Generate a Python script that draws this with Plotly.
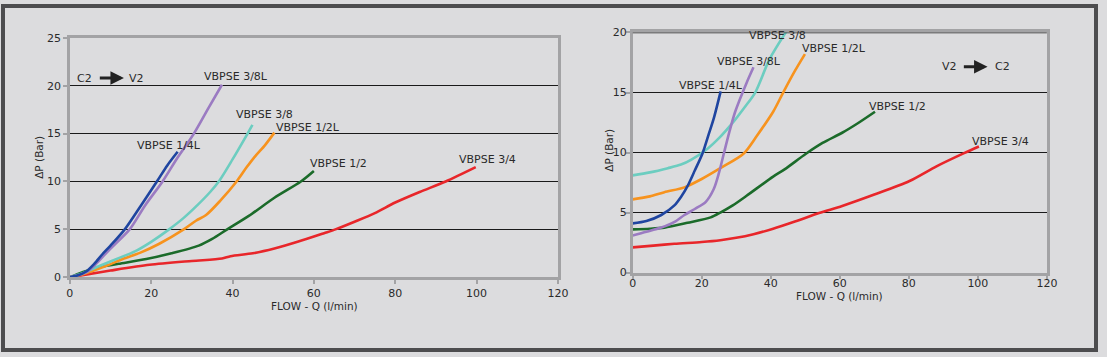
import plotly.graph_objects as go

# ---------------- Left chart: C2 -> V2 ----------------
L_Q_14L = [0, 2, 4, 6, 8, 10, 13.5, 17.5, 21.4, 24, 26.5]
L_DP_14L = [0, 0.2, 0.6, 1.4, 2.4, 3.3, 5, 7.5, 10, 11.7, 13.1]

L_Q_38L = [0, 2, 4, 6, 8, 10, 14.7, 18.5, 22.8, 26.5, 30.5, 34, 37.4]
L_DP_38L = [0, 0.2, 0.5, 1.2, 2.1, 3.0, 5, 7.5, 10, 12.5, 15, 17.6, 20.1]

L_Q_38 = [0, 3, 7.4, 12, 16, 20, 24.4, 28, 31.3, 34.5, 36.8, 40, 43.7, 44.9]
L_DP_38 = [0, 0.4, 1.2, 2.0, 2.7, 3.7, 5, 6.2, 7.5, 8.9, 10.1, 12.3, 15, 15.9]

L_Q_12L = [0, 3, 9, 13, 17.5, 22, 28, 31, 33.5, 37, 41, 43.5, 45.5, 48, 50.3]
L_DP_12L = [0, 0.3, 1.2, 1.9, 2.6, 3.5, 5, 5.9, 6.5, 8, 10, 11.5, 12.6, 13.8, 15.1]

L_Q_12 = [0, 3, 6.6, 12, 18.8, 25, 31.7, 35, 38.7, 44, 50.3, 56.8, 60]
L_DP_12 = [0, 0.5, 1.0, 1.4, 1.9, 2.5, 3.3, 4.0, 5, 6.4, 8.3, 10, 11.1]

L_Q_34 = [0, 4.2, 10, 19.6, 30, 37.4, 39.5, 45, 50.3, 56, 62.5, 65.3, 70, 75, 80, 86, 92.4, 99.8]
L_DP_34 = [0, 0.3, 0.7, 1.3, 1.7, 1.95, 2.2, 2.5, 3.0, 3.7, 4.6, 5, 5.8, 6.7, 7.8, 8.9, 10, 11.5]

# ---------------- Right chart: V2 -> C2 ----------------
R_Q_14L = [0, 4, 8.3, 12.1, 14, 15.9, 18, 20.2, 22, 23.5, 25.5]
R_DP_14L = [4.1, 4.3, 4.8, 5.6, 6.3, 7.2, 8.5, 9.9, 11.5, 12.85, 15.1]

R_Q_38L = [0, 4, 8.3, 12, 15, 18, 21.2, 23.5, 25, 26.4, 28, 29.7, 33, 35]
R_DP_38L = [3.1, 3.4, 3.75, 4.2, 4.8, 5.3, 5.9, 6.96, 8.3, 9.9, 11.7, 13.4, 15.8, 17.1]

R_Q_38 = [0, 5, 10.2, 14, 16.9, 21.6, 25, 29.3, 32.5, 35.5, 39.7, 45]
R_DP_38 = [8.1, 8.35, 8.7, 9.0, 9.4, 10.3, 11.2, 12.6, 13.8, 15, 17.8, 20.3]

R_Q_12L = [0, 5, 9.2, 15, 20, 25.4, 32.1, 36, 40.7, 43.6, 47, 49.9]
R_DP_12L = [6.1, 6.35, 6.7, 7.1, 7.8, 8.7, 9.9, 11.4, 13.4, 15, 16.8, 18.2]

R_Q_12 = [0, 5, 9.2, 15.9, 22.6, 25.4, 29, 33, 40.7, 44, 50.2, 55, 60.7, 65, 70.2]
R_DP_12 = [3.6, 3.65, 3.75, 4.15, 4.6, 5.0, 5.6, 6.4, 8.0, 8.6, 9.9, 10.8, 11.65, 12.4, 13.4]

R_Q_34 = [0, 6, 12.1, 20, 25.4, 30, 35, 40.7, 47, 54, 60.7, 70, 80.2, 88, 96, 100.3]
R_DP_34 = [2.1, 2.25, 2.4, 2.55, 2.7, 2.9, 3.2, 3.65, 4.25, 4.96, 5.55, 6.5, 7.63, 8.85, 9.95, 10.5]

X_TICKS = [0, 20, 40, 60, 80, 100, 120]
L_Y_TICKS = [0, 5, 10, 15, 20, 25]
R_Y_TICKS = [0, 5, 10, 15, 20]

NAMES = ["VBPSE 1/4L", "VBPSE 3/8L", "VBPSE 3/8", "VBPSE 1/2L", "VBPSE 1/2", "VBPSE 3/4"]
COLORS = ["#1f45a0", "#9b7bc2", "#6ccdc0", "#f7931e", "#1b6b2a", "#e8262a"]

# label positions (data coords)
L_LABEL_Q = [24.4, 40.8, 47.9, 58.6, 66.1, 102.7]
L_LABEL_DP = [13.8, 21.0, 17.0, 15.6, 11.9, 12.3]
R_LABEL_Q = [22.8, 33.7, 42.0, 58.4, 76.7, 106.6]
R_LABEL_DP = [15.6, 17.55, 19.75, 18.7, 13.85, 10.9]

FONT = "DejaVu Sans"
TXT = "#2a2a2a"
BG = "#dcdcde"
AXC = "#a3a3a5"
W, H = 1107, 357

fig = go.Figure()

left = [(L_Q_14L, L_DP_14L), (L_Q_38L, L_DP_38L), (L_Q_38, L_DP_38),
        (L_Q_12L, L_DP_12L), (L_Q_12, L_DP_12), (L_Q_34, L_DP_34)]
right = [(R_Q_14L, R_DP_14L), (R_Q_38L, R_DP_38L), (R_Q_38, R_DP_38),
         (R_Q_12L, R_DP_12L), (R_Q_12, R_DP_12), (R_Q_34, R_DP_34)]

order = [5, 4, 3, 2, 1, 0]
for i in order:
    q, dp = left[i]
    fig.add_trace(go.Scatter(x=q, y=dp, mode="lines", name=NAMES[i],
                             line=dict(color=COLORS[i], width=2.6, shape="spline", smoothing=0.8),
                             xaxis="x", yaxis="y", showlegend=False))
for i in order:
    q, dp = right[i]
    fig.add_trace(go.Scatter(x=q, y=dp, mode="lines", name=NAMES[i],
                             line=dict(color=COLORS[i], width=2.6, shape="spline", smoothing=0.8),
                             xaxis="x2", yaxis="y2", showlegend=False))

annotations = []
for i in range(6):
    annotations.append(dict(x=L_LABEL_Q[i], y=L_LABEL_DP[i], xref="x", yref="y", text=NAMES[i],
                            showarrow=False, xanchor="center", yanchor="middle",
                            font=dict(family=FONT, size=11, color=TXT)))
    annotations.append(dict(x=R_LABEL_Q[i], y=R_LABEL_DP[i], xref="x2", yref="y2", text=NAMES[i],
                            showarrow=False, xanchor="center", yanchor="middle",
                            font=dict(family=FONT, size=11, color=TXT)))

# direction markers
annotations += [
    dict(x=3.6, y=20.8, xref="x", yref="y", text="C2", showarrow=False,
         font=dict(family=FONT, size=11, color=TXT)),
    dict(x=16.5, y=20.8, xref="x", yref="y", text="V2", showarrow=False,
         font=dict(family=FONT, size=11, color=TXT)),
    dict(x=13.3, y=20.8, ax=7.0, ay=20.8, xref="x", yref="y", axref="x", ayref="y",
         text="", showarrow=True, arrowhead=2, arrowsize=0.9, arrowwidth=3, arrowcolor="#222"),
    dict(x=91.7, y=17.15, xref="x2", yref="y2", text="V2", showarrow=False,
         font=dict(family=FONT, size=11, color=TXT)),
    dict(x=107.0, y=17.15, xref="x2", yref="y2", text="C2", showarrow=False,
         font=dict(family=FONT, size=11, color=TXT)),
    dict(x=102.8, y=17.15, ax=95.5, ay=17.15, xref="x2", yref="y2", axref="x2", ayref="y2",
         text="", showarrow=True, arrowhead=2, arrowsize=0.9, arrowwidth=3, arrowcolor="#222"),
]

# axis titles
annotations += [
    dict(x=315 / W, y=1 - 311 / H, xref="paper", yref="paper", text="FLOW - Q (l/min)",
         showarrow=False, xanchor="center", yanchor="middle", font=dict(family=FONT, size=10.5, color=TXT)),
    dict(x=847.5 / W, y=1 - 301 / H, xref="paper", yref="paper", text="FLOW - Q (l/min)",
         showarrow=False, xanchor="center", yanchor="middle", font=dict(family=FONT, size=10.5, color=TXT)),
    dict(x=37 / W, y=1 - 157 / H, xref="paper", yref="paper", text="ΔP (Bar)", textangle=-90,
         showarrow=False, xanchor="center", yanchor="middle", font=dict(family=FONT, size=10.5, color=TXT)),
    dict(x=613 / W, y=1 - 150 / H, xref="paper", yref="paper", text="ΔP (Bar)", textangle=-90,
         showarrow=False, xanchor="center", yanchor="middle", font=dict(family=FONT, size=10.5, color=TXT)),
]

axis_common = dict(showline=True, linecolor=AXC, linewidth=2.5, mirror=True, zeroline=False,
                   ticks="outside", ticklen=4, tickwidth=1.5, tickcolor=AXC,
                   tickfont=dict(family=FONT, size=11, color=TXT), fixedrange=True)

fig.update_layout(
    width=W, height=H,
    margin=dict(l=0, r=0, t=0, b=0),
    paper_bgcolor=BG, plot_bgcolor=BG,
    xaxis=dict(domain=[67.7 / W, 562 / W], range=[0, 120], tickvals=X_TICKS,
               showgrid=False, anchor="y", **axis_common),
    yaxis=dict(domain=[1 - 281.5 / H, 1 - 33 / H], range=[0, 25], tickvals=L_Y_TICKS,
               showgrid=True, gridcolor="#1a1a1a", gridwidth=1, anchor="x", **axis_common),
    xaxis2=dict(domain=[637.7 / W, 1057.3 / W], range=[0, 120], tickvals=X_TICKS,
                showgrid=False, anchor="y2", ticklabelstandoff=-6, **axis_common),
    yaxis2=dict(domain=[1 - 276.7 / H, 1 - 27.5 / H], range=[0, 20], tickvals=R_Y_TICKS,
                showgrid=True, gridcolor="#1a1a1a", gridwidth=1, anchor="x2", ticklabelstandoff=-3,
                **axis_common),
    annotations=annotations,
    shapes=[
        dict(type="line", xref="x2", yref="y2", x0=0, x1=120, y0=20, y1=20,
             line=dict(color="#1a1a1a", width=1.5), layer="above"),
        dict(type="rect", xref="paper", yref="paper", x0=0, y0=0, x1=1, y1=1,
             line=dict(color="#4d4d4f", width=4), layer="above"),
    ],
)

fig.write_html(
    "out.html",
    config={"displayModeBar": False, "responsive": False},
    post_script="document.body.style.margin='0';document.body.style.padding='0';"
                "document.body.style.overflow='hidden';",
)
